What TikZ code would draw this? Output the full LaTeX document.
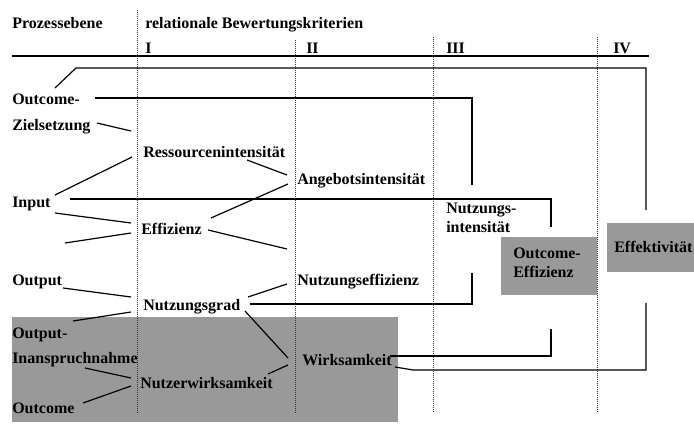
\documentclass[tikz,border=0pt]{standalone}
\usepackage{fontspec}
\setmainfont{Liberation Serif}
\definecolor{boxgray}{RGB}{153,153,153}
\begin{document}
\begin{tikzpicture}[x=0.75pt,y=-0.75pt,
  txt/.style={inner sep=0pt, anchor=base west, font=\fontsize{12}{14}\selectfont\bfseries},
  conn/.style={line width=0.9pt, line join=miter},
  grid/.style={line width=0.5pt, densely dotted, black!80},
  shade/.style={fill=boxgray, draw=none}]
\useasboundingbox (0,0) rectangle (694,436);
% gray boxes
\fill[shade] (12,317) rectangle (398,422);
\fill[shade] (501,237) rectangle (597,295);
\fill[shade] (607,223) rectangle (694,272);
% dotted column lines
\draw[grid] (137,10) -- (137,413);
\draw[grid] (295,40) -- (295,413);
\draw[grid] (433,37) -- (433,413);
\draw[grid] (597,37) -- (597,413);
% header
\node[txt] (proz) at (12,28) {Prozessebene};
\node[txt] (rel) at (145,28) {relationale Bewertungskriterien};
\node[txt] (c1) at (145,53) {I};
\node[txt] (c2) at (306,53) {II};
\node[txt] (c3) at (446,53) {III};
\node[txt] (c4) at (613,53) {IV};
\draw[line width=1.6pt] (12,56) coordinate (h0) -- (649,56) coordinate (h1);
% left column
\node[txt] (outz1) at (12,104) {Outcome-};
\node[txt] (outz2) at (12,130) {Zielsetzung};
\node[txt] (input) at (12,207) {Input};
\node[txt] (output) at (12,285) {Output};
\node[txt] (oin1) at (12,338) {Output-};
\node[txt] (oin2) at (12,363) {Inanspruchnahme};
\node[txt] (outc) at (12,413) {Outcome};
% column I
\node[txt] (ress) at (143,157) {Ressourcenintensität};
\node[txt] (eff) at (141,234) {Effizienz};
\node[txt] (ngrad) at (143,310) {Nutzungsgrad};
\node[txt] (nwirk) at (140,388) {Nutzerwirksamkeit};
% column II
\node[txt] (ang) at (297,184) {Angebotsintensität};
\node[txt] (neff) at (297,285) {Nutzungseffizienz};
\node[txt] (wirk) at (302,365) {Wirksamkeit};
% column III
\node[txt] (nint1) at (446,213) {Nutzungs-};
\node[txt] (nint2) at (446,232) {intensität};
\node[txt] (oeff1) at (513,258) {Outcome-};
\node[txt] (oeff2) at (513,277) {Effizienz};
% column IV
\node[txt] (effk) at (614,252) {Effektivität};
% connectors
\draw[conn] (55,88) coordinate (a0) -- (76,68) -- (646,68) -- (646,210) coordinate (a1);
\draw[conn] (95,98) coordinate (b0) -- (472,98) -- (472,185) coordinate (b1);
\draw[conn] (97,123) coordinate (z0) -- (131,131) coordinate (z1);
\draw[conn] (55,195) coordinate (i0) -- (132,157) coordinate (i1);
\draw[conn] (247,160) coordinate (r0) -- (287,175) coordinate (r1);
\draw[conn] (70,199) coordinate (n0) -- (551,199) -- (551,227) coordinate (n1);
\draw[conn] (55,213) coordinate (e0) -- (131,223) coordinate (e1);
\draw[conn] (65,243) coordinate (e2) -- (131,233) coordinate (e3);
\draw[conn] (211,218) coordinate (f0) -- (288,184) coordinate (f1);
\draw[conn] (208,230) coordinate (f2) -- (287,249) coordinate (f3);
\draw[conn] (63,288) coordinate (g0) -- (131,297) coordinate (g1);
\draw[conn] (248,297) coordinate (g2) -- (287,284) coordinate (g3);
\draw[conn] (250,304) coordinate (g4) -- (472,304) -- (472,273) coordinate (g5);
\draw[conn] (73,321) coordinate (k0) -- (131,312) coordinate (k1);
\draw[conn] (245,311) coordinate (k2) -- (288,358) coordinate (k3);
\draw[conn] (288,365) coordinate (w0) -- (268,374) coordinate (w1);
\draw[conn] (85,368) coordinate (m0) -- (131,378) coordinate (m1);
\draw[conn] (83,403) coordinate (m2) -- (131,386) coordinate (m3);
\draw[conn] (390,356) coordinate (p0) -- (551,356) -- (551,329) coordinate (p1);
\draw[conn] (395,367) coordinate (q0) -- (413,370) -- (646,370) -- (646,303) coordinate (q1);
\end{tikzpicture}
\end{document}
